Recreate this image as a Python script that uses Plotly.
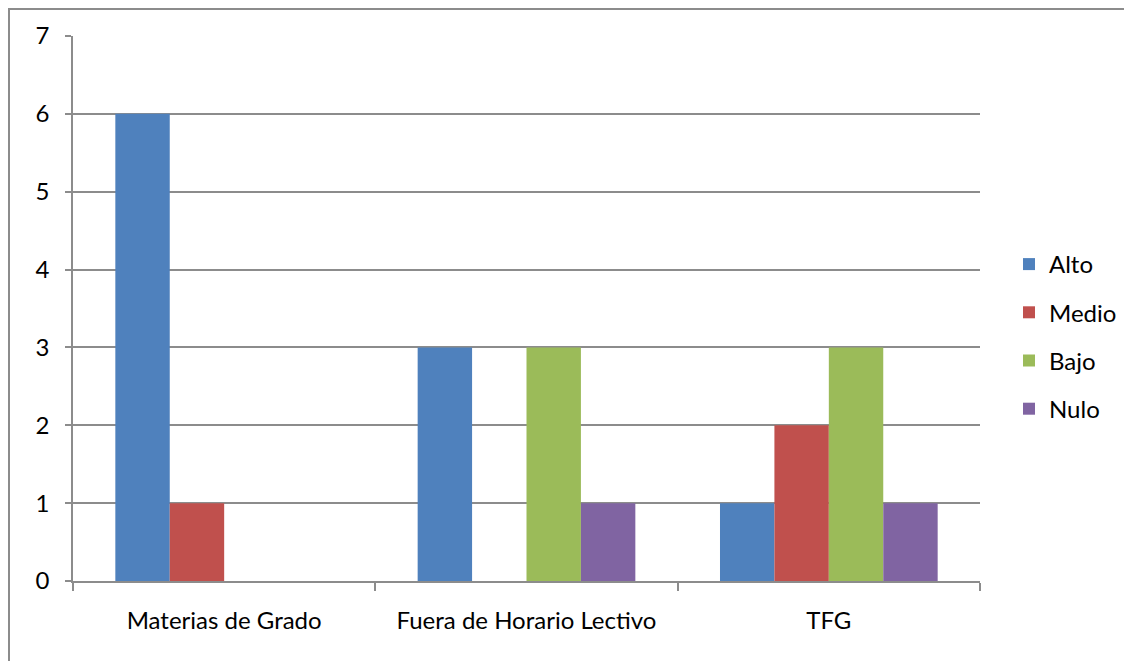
import plotly.graph_objects as go

categories = ["Materias de Grado", "Fuera de Horario Lectivo", "TFG"]
series_names = ["Alto", "Medio", "Bajo", "Nulo"]
alto = [6, 3, 1]
medio = [1, 0, 2]
bajo = [0, 3, 3]
nulo = [0, 1, 1]
colors = ["#4F81BD", "#C0504D", "#9BBB59", "#8064A2"]
y_ticks = [0, 1, 2, 3, 4, 5, 6, 7]

FONT = "Lato, Carlito, Calibri, sans-serif"
GRAY = "#8C8C8C"

fig = go.Figure()
for name, vals, col in zip(series_names, [alto, medio, bajo, nulo], colors):
    fig.add_trace(go.Bar(
        name=name, x=categories, y=vals,
        marker=dict(color=col, line=dict(width=0)),
        legendgroup=name,
    ))

W, H = 1132, 661
L, T = 65, 28
pw, ph = 907, 545
R = W - L - pw
B = H - T - ph

fig.update_layout(
    width=W, height=H,
    margin=dict(l=L, r=R, t=T, b=B),
    paper_bgcolor="white", plot_bgcolor="white",
    barmode="group", bargap=0.28, bargroupgap=0,
    font=dict(family=FONT, size=24, color="black"),
    legend=dict(
        x=(1001 - L) / pw, xanchor="left",
        y=(573 - 328.5) / ph, yanchor="middle",
        font=dict(size=24),
        tracegroupgap=14,
        bgcolor="rgba(0,0,0,0)",
    ),
    showlegend=True,
)
fig.update_yaxes(
    range=[0, 7], tickvals=y_ticks,
    showgrid=True, gridcolor=GRAY, gridwidth=1.5,
    showline=True, linecolor=GRAY, linewidth=1.5,
    ticks="outside", ticklen=6, tickcolor=GRAY, tickwidth=1.5,
    ticklabelstandoff=11,
    zeroline=False,
)
fig.update_xaxes(
    showline=True, linecolor=GRAY, linewidth=1.5,
    ticks="outside", tickson="boundaries", ticklen=8, tickcolor=GRAY, tickwidth=1.5,
    ticklabelstandoff=17,
    showgrid=False,
)
# outer chart frame (left and top edges visible)
fig.add_shape(type="rect", xref="paper", yref="paper",
              x0=(1 - L) / pw, x1=(W + 20 - L) / pw,
              y0=-(B + 20) / ph, y1=(T - 1) / ph + 1,
              line=dict(color=GRAY, width=2), fillcolor="rgba(0,0,0,0)", layer="below")

fig.write_html("out.html")
